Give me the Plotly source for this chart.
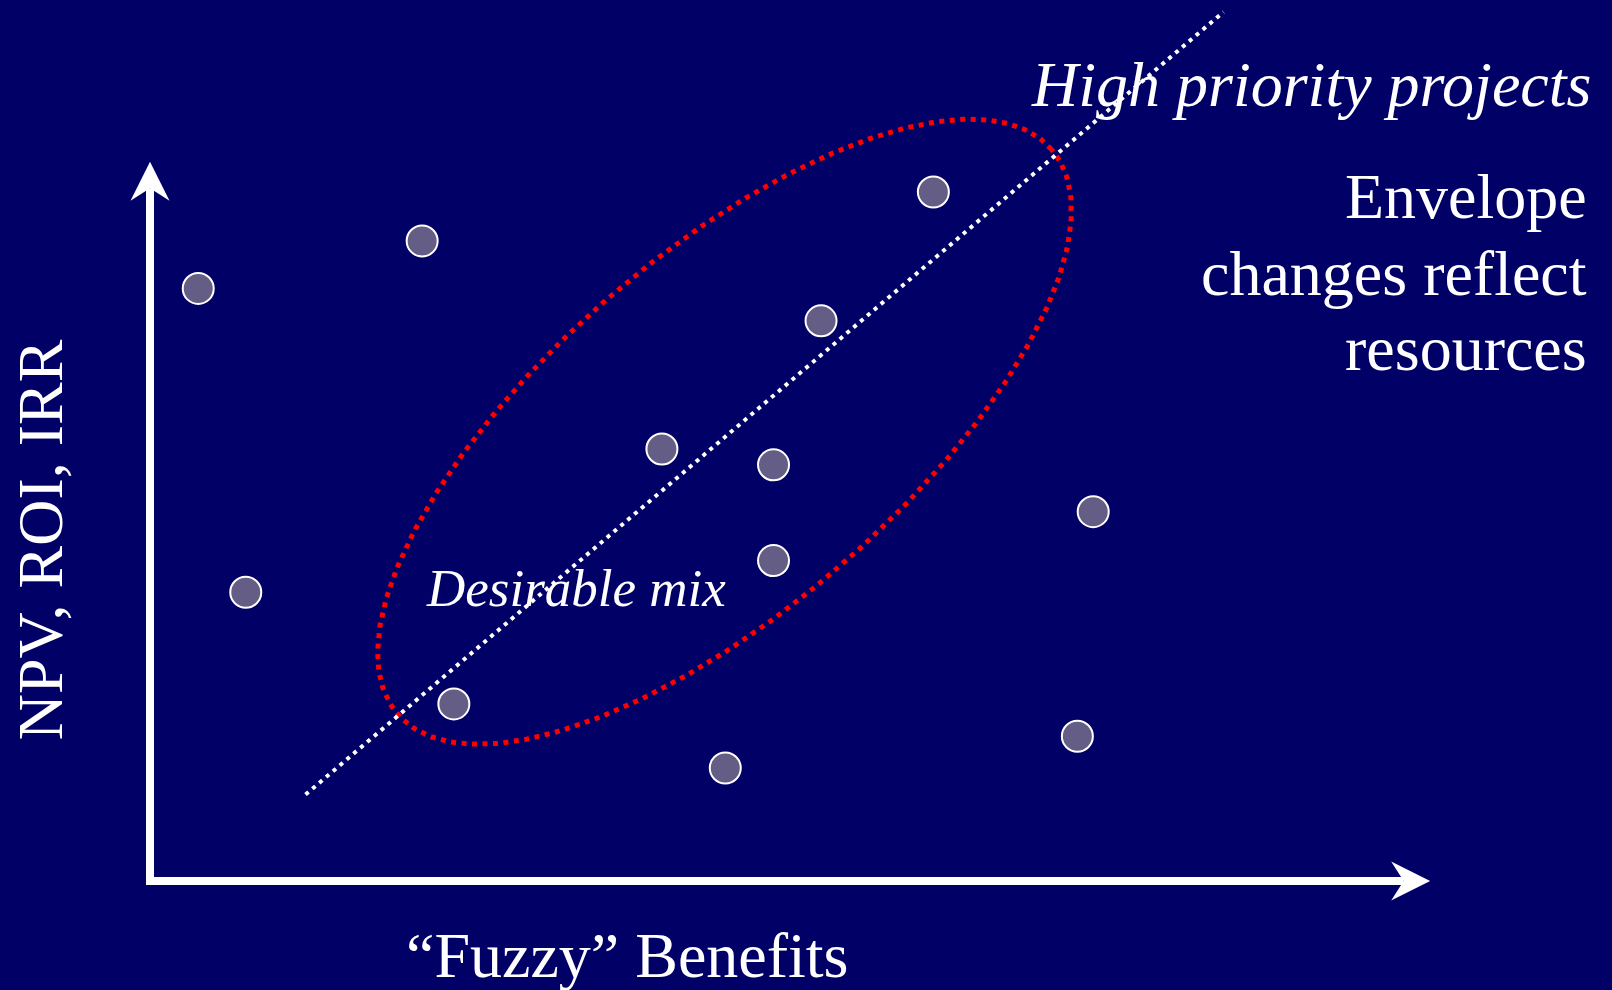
import numpy as np
import plotly.graph_objects as go

# Project portfolio: "fuzzy" benefits (x) against financial return (y)
benefits = [0.67, 3.78, 10.88, 9.32, 7.11, 8.66, 13.10, 8.66, 1.33, 4.22, 7.99, 12.88]
returns = [8.23, 8.89, 9.57, 7.78, 6.00, 5.78, 5.13, 4.45, 4.01, 2.46, 1.57, 2.01]

# Priority line and the resource envelope around it
priority_x = [2.16, 14.91]
priority_y = [1.20, 12.07]
envelope_center = (7.98, 6.24)
envelope_axes = (6.0, 2.46)
envelope_angle_deg = 40.8

# Axis arrow lengths
x_axis_end = 17.78
y_axis_end = 9.99

# Text
x_title = "“Fuzzy” Benefits"
y_title = "NPV, ROI, IRR"
line_label = "High priority projects"
envelope_label = "Desirable mix"
note_lines = ["Envelope", "changes reflect", "resources"]

W, H = 1612, 990
PX = 72.0                 # pixels per data unit (same on both axes)
ORIGIN = (150.0, 881.0)   # pixel position of the axes corner

BG = "#000066"
WHITE = "#ffffff"
RED = "#ff0000"
DOT_FILL = "#645d85"
SERIF = "Liberation Serif, Times New Roman, serif"


def paper(px, py):
    return px / W, 1 - py / H


fig = go.Figure()

# resource envelope (rotated ellipse)
t = np.linspace(0, 2 * np.pi, 400)
ang = np.radians(envelope_angle_deg)
a, b = envelope_axes
ex = envelope_center[0] + a * np.cos(t) * np.cos(ang) - b * np.sin(t) * np.sin(ang)
ey = envelope_center[1] + a * np.cos(t) * np.sin(ang) + b * np.sin(t) * np.cos(ang)
fig.add_trace(go.Scatter(x=ex, y=ey, mode="lines",
                         line=dict(color=RED, width=5, dash="5px,5.5px"),
                         hoverinfo="skip"))

# priority line
fig.add_trace(go.Scatter(x=priority_x, y=priority_y, mode="lines",
                         line=dict(color=WHITE, width=4, dash="4px,5px"),
                         hoverinfo="skip"))

# projects
fig.add_trace(go.Scatter(x=benefits, y=returns, mode="markers",
                         marker=dict(size=31, color=DOT_FILL,
                                     line=dict(color=WHITE, width=2)),
                         hoverinfo="skip"))

# axes with arrow heads
u = 1 / PX
head_len, head_half, notch = 39 * u, 19.5 * u, 26.5 * u
shapes = [
    dict(type="line", xref="x", yref="y", x0=0, y0=-4 * u, x1=0, y1=y_axis_end - notch,
         line=dict(color=WHITE, width=8)),
    dict(type="line", xref="x", yref="y", x0=-4 * u, y0=0, x1=x_axis_end - notch, y1=0,
         line=dict(color=WHITE, width=8)),
    dict(type="path", xref="x", yref="y", fillcolor=WHITE, line=dict(width=0),
         path=(f"M0,{y_axis_end} L{-head_half},{y_axis_end - head_len} "
               f"L0,{y_axis_end - notch} L{head_half},{y_axis_end - head_len} Z")),
    dict(type="path", xref="x", yref="y", fillcolor=WHITE, line=dict(width=0),
         path=(f"M{x_axis_end},0 L{x_axis_end - head_len},{head_half} "
               f"L{x_axis_end - notch},0 L{x_axis_end - head_len},{-head_half} Z")),
]

annotations = []


def label(text, px, py, size, xanchor="center", italic=False, angle=0):
    x, y = paper(px, py)
    annotations.append(dict(
        text=f"<i>{text}</i>" if italic else text,
        x=x, y=y, xref="paper", yref="paper",
        xanchor=xanchor, yanchor="middle", showarrow=False,
        borderpad=0, textangle=angle,
        font=dict(family=SERIF, size=size, color=WHITE)))


label(x_title, 627, 977 - 0.34 * 64, 64)
label(y_title, 62 - 0.34 * 64, 540, 64, angle=-90)
label(line_label, 1592, 106 - 0.34 * 64, 64, xanchor="right", italic=True)
label(envelope_label, 425, 606 - 0.34 * 53, 53, xanchor="left", italic=True)
for text, base in zip(note_lines, [218, 295, 370]):
    label(text, 1588, base - 0.34 * 64, 64, xanchor="right")

fig.update_layout(
    width=W, height=H,
    margin=dict(l=0, r=0, t=0, b=0),
    paper_bgcolor=BG, plot_bgcolor=BG,
    showlegend=False,
    shapes=shapes,
    annotations=annotations,
    xaxis=dict(visible=False, range=[-ORIGIN[0] / PX, (W - ORIGIN[0]) / PX], fixedrange=True),
    yaxis=dict(visible=False, range=[-(H - ORIGIN[1]) / PX, ORIGIN[1] / PX], fixedrange=True),
)

fig.write_html("out.html", config={"displayModeBar": False})
